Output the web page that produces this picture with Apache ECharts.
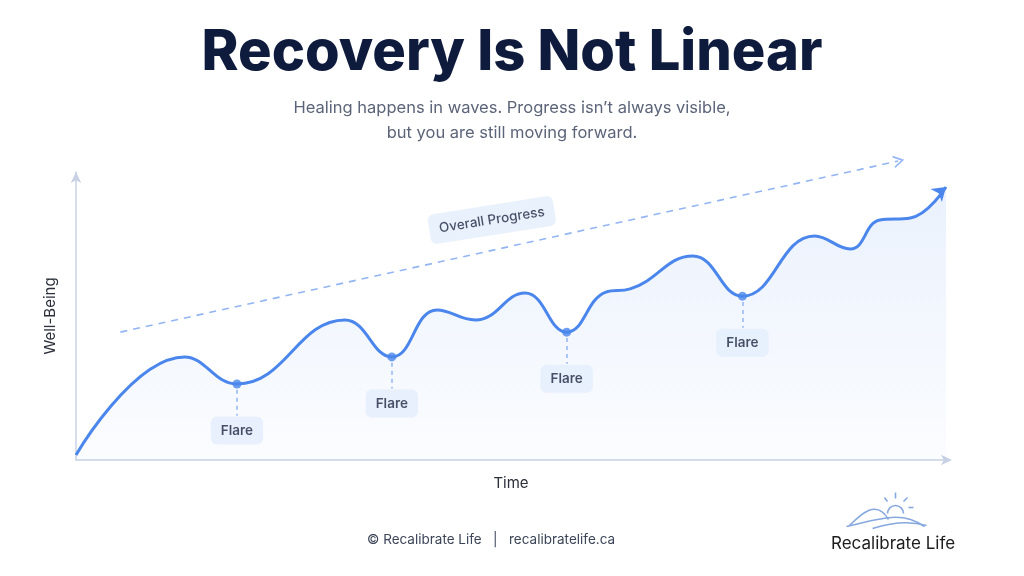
<!DOCTYPE html>
<html>
<head>
<meta charset="utf-8">
<title>Recovery Is Not Linear</title>
<script src="https://cdn.jsdelivr.net/npm/echarts@6/dist/echarts.min.js"></script>
<style>
  html, body { margin: 0; padding: 0; background: #ffffff; }
  #chart { width: 1024px; height: 576px; }
</style>
</head>
<body>
<div id="chart"></div>
<script>
// wellbeing curve (x = time 0..100, y = well-being 0..100)
var curveX = [0, 12.5, 18.5, 30.9, 36.3, 41.5, 45.9, 51.6, 56.4, 60.9, 63.7, 70.9, 76.6, 84.9, 89, 92.4, 95.9, 100];
var curveY = [1.7, 35.8, 26.4, 48.6, 35.8, 52.1, 48.6, 58, 44.4, 58.3, 59.4, 70.8, 56.9, 77.8, 73.3, 83.3, 84, 94.8];

// flare dips
var flareX = [18.5, 36.3, 56.4, 76.6];
var flareY = [26.4, 35.8, 44.4, 56.9];
var flareLabel = 'Flare';

// overall progress trend
var trendX = [5.1, 94.5];
var trendY = [44.4, 103.8];
var trendLabel = 'Overall Progress';
var trendLabelPos = [47.8, 83.3];

var blue = '#4a86ec';
var paleBlue = '#93b5f4';
var labelBg = '#e4edfc';
var ink = '#1d2740';

var myChart = echarts.init(document.getElementById('chart'));

var curveData = curveX.map(function (x, i) {
    var item = { value: [x, curveY[i]] };
    if (i === curveX.length - 1) {
        item.symbol = 'arrow';
        item.symbolSize = [13, 13];
        item.symbolRotate = -49;
        item.itemStyle = { color: blue };
    }
    return item;
});

var trendData = [
    { value: [trendX[0], trendY[0]], symbol: 'none' },
    {
        value: [trendX[1], trendY[1]],
        symbol: 'path://M0,0L10,6L0,12',
        symbolSize: [9, 11],
        symbolRotate: 12,
        itemStyle: { color: 'rgba(0,0,0,0)', borderColor: paleBlue, borderWidth: 1.6 }
    }
];

var flareDots = flareX.map(function (x, i) { return [x, flareY[i]]; });
var flareBoxes = flareX.map(function (x, i) { return [x, flareY[i] - 16.2]; });
var flareDrops = flareX.map(function (x, i) {
    return [{ coord: [x, flareY[i] - 2] }, { coord: [x, flareY[i] - 11] }];
});

var boxLabel = {
    show: true,
    position: 'inside',
    color: ink,
    fontSize: 13.5,
    fontWeight: 600,
    fontFamily: 'Inter',
    backgroundColor: labelBg,
    borderRadius: 6,
    padding: [7, 10]
};

var option = {
    backgroundColor: '#ffffff',
    animation: false,
    title: [{
        text: 'Recovery Is Not Linear',
        left: 'center',
        top: 20,
        textStyle: { fontSize: 56, fontWeight: 800, color: '#0f1b3d', fontFamily: 'Inter' }
    }, {
        text: '\u00a9 Recalibrate Life   |   recalibratelife.ca',
        left: 362,
        top: 528,
        textStyle: { fontSize: 13.5, fontWeight: 400, color: '#3c4658', fontFamily: 'Inter' }
    }, {
        text: 'Recalibrate Life',
        left: 826,
        top: 530,
        textStyle: { fontSize: 17, fontWeight: 400, color: '#1c1c1c', fontFamily: 'Inter' }
    }],
    grid: { left: 76, right: 78, top: 172, bottom: 116 },
    xAxis: {
        type: 'value', min: 0, max: 100,
        name: 'Time', nameLocation: 'middle', nameGap: 16,
        nameTextStyle: { fontSize: 15, color: '#2a2f3a', fontFamily: 'Inter' },
        axisLine: { show: true, symbol: ['none', 'arrow'], symbolSize: [8, 11], symbolOffset: [0, 6], lineStyle: { color: '#c8d2e4', width: 1.5 } },
        axisTick: { show: false }, axisLabel: { show: false }, splitLine: { show: false }
    },
    yAxis: {
        type: 'value', min: 0, max: 100,
        name: 'Well-Being', nameLocation: 'middle', nameGap: 18, nameRotate: 90,
        nameTextStyle: { fontSize: 15, color: '#2a2f3a', fontFamily: 'Inter' },
        axisLine: { show: true, symbol: ['none', 'arrow'], symbolSize: [8, 11], lineStyle: { color: '#c8d2e4', width: 1.5 } },
        axisTick: { show: false }, axisLabel: { show: false }, splitLine: { show: false }
    },
    series: [{
        type: 'line',
        data: trendData,
        clip: false,
        silent: true,
        z: 2,
        lineStyle: { color: paleBlue, width: 1.6, type: [7, 6] }
    }, {
        type: 'line',
        data: curveData,
        smooth: 0.45,
        symbol: 'none',
        showSymbol: true,
        clip: false,
        z: 3,
        lineStyle: { color: blue, width: 3 },
        areaStyle: {
            color: new echarts.graphic.LinearGradient(0, 0, 0, 1, [
                { offset: 0, color: 'rgba(74,134,236,0.16)' },
                { offset: 1, color: 'rgba(74,134,236,0.03)' }
            ])
        }
    }, {
        type: 'scatter',
        data: flareDots,
        symbolSize: 9,
        z: 4,
        itemStyle: { color: blue },
        markLine: {
            silent: true,
            symbol: 'none',
            label: { show: false },
            lineStyle: { color: paleBlue, width: 1.5, type: [4, 4] },
            data: flareDrops
        }
    }, {
        type: 'scatter',
        data: flareBoxes,
        symbolSize: 1,
        z: 5,
        itemStyle: { color: 'rgba(0,0,0,0)' },
        label: Object.assign({ formatter: flareLabel }, boxLabel)
    }, {
        type: 'scatter',
        data: [trendLabelPos],
        symbolSize: 1,
        z: 5,
        itemStyle: { color: 'rgba(0,0,0,0)' },
        label: Object.assign({}, boxLabel, { formatter: trendLabel, rotate: 9, padding: [8, 10], fontWeight: 500 })
    }],
    graphic: [{
        type: 'text',
        x: 512,
        y: 96,
        silent: true,
        style: {
            text: 'Healing happens in waves. Progress isn\u2019t always visible,\nbut you are still moving forward.',
            align: 'center',
            verticalAlign: 'top',
            fontSize: 16.5,
            lineHeight: 25,
            fill: '#5b6478',
            fontFamily: 'Inter'
        }
    }, {
        type: 'group',
        left: 844, top: 490,
        silent: true,
        children: [
            { type: 'line', shape: { x1: 49, y1: 0, x2: 49, y2: 6 }, style: { stroke: '#86a8df', lineWidth: 1.6 } },
            { type: 'line', shape: { x1: 38, y1: 5, x2: 41, y2: 9 }, style: { stroke: '#86a8df', lineWidth: 1.6 } },
            { type: 'line', shape: { x1: 61, y1: 5, x2: 57, y2: 9 }, style: { stroke: '#86a8df', lineWidth: 1.6 } },
            { type: 'line', shape: { x1: 62, y1: 15, x2: 67, y2: 15 }, style: { stroke: '#86a8df', lineWidth: 1.6 } },
            { type: 'arc', shape: { cx: 49, cy: 21, r: 8, startAngle: Math.PI, endAngle: Math.PI * 2 }, style: { stroke: '#86a8df', fill: 'none', lineWidth: 1.6 } },
            { type: 'bezierCurve', shape: { x1: 3, y1: 33, x2: 42, y2: 27, cpx1: 14, cpy1: 22, cpx2: 30, cpy2: 6 }, style: { stroke: '#86a8df', fill: 'none', lineWidth: 1.6 } },
            { type: 'bezierCurve', shape: { x1: 0, y1: 34, x2: 78, y2: 34, cpx1: 35, cpy1: 26, cpx2: 55, cpy2: 18 }, style: { stroke: '#86a8df', fill: 'none', lineWidth: 1.6 } },
            { type: 'bezierCurve', shape: { x1: 26, y1: 36, x2: 80, y2: 33, cpx1: 45, cpy1: 30, cpx2: 62, cpy2: 28 }, style: { stroke: '#86a8df', fill: 'none', lineWidth: 1.6 } }
        ]
    }]
};

myChart.setOption(option);
</script>
</body>
</html>
